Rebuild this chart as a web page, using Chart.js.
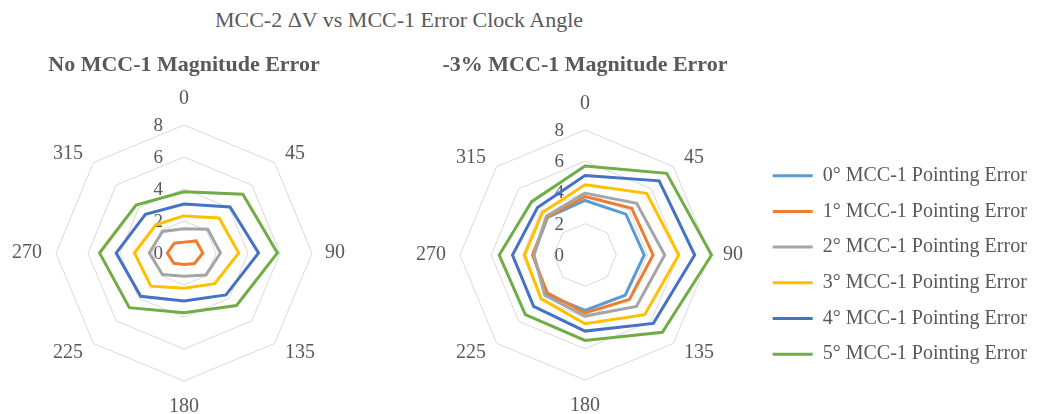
<!DOCTYPE html>
<html>
<head>
<meta charset="utf-8">
<script src="https://cdn.jsdelivr.net/npm/chart.js@4.4.1/dist/chart.umd.min.js"></script>
<style>
html, body { margin: 0; padding: 0; background: #ffffff; overflow: hidden; width: 1046px; height: 414px; }
.box { position: absolute; }
#mainTitle { position: absolute; left: 0; width: 798px; top: 7px; text-align: center; font: 22px/26px "Liberation Serif", serif; color: #595959; white-space: nowrap; }
</style>
</head>
<body>
<div id="mainTitle"></div>
<div class="box" style="left:-36px; top:52px; width:440px; height:369px;"><canvas id="chartLeft"></canvas></div>
<div class="box" style="left:365px; top:52px; width:440px; height:368px;"><canvas id="chartRight"></canvas></div>
<div class="box" style="left:757px; top:150px; width:700px; height:260px;"><canvas id="chartLegend"></canvas></div>
<script>
// ---- data ----
const mainTitle = 'MCC-2 \u0394V vs MCC-1 Error Clock Angle';
const leftTitle = 'No MCC-1 Magnitude Error';
const rightTitle = '-3% MCC-1 Magnitude Error';
const categories = ['0', '45', '90', '135', '180', '225', '270', '315'];
const tickValues = [0, 2, 4, 6, 8];
const seriesNames = [
  '0\u00B0 MCC-1 Pointing Error',
  '1\u00B0 MCC-1 Pointing Error',
  '2\u00B0 MCC-1 Pointing Error',
  '3\u00B0 MCC-1 Pointing Error',
  '4\u00B0 MCC-1 Pointing Error',
  '5\u00B0 MCC-1 Pointing Error'
];
const seriesColors = ['#5B9BD5', '#ED7D31', '#A5A5A5', '#FFC000', '#4472C4', '#70AD47'];

// No MCC-1 magnitude error
const noMagErr0deg = [0, 0, 0, 0, 0, 0, 0, 0];
const noMagErr1deg = [0.68, 1.07, 1.18, 0.93, 0.72, 0.91, 1.04, 0.86];
const noMagErr2deg = [1.51, 2.10, 2.28, 1.94, 1.45, 1.90, 2.17, 1.90];
const noMagErr3deg = [2.32, 3.10, 3.42, 2.71, 2.20, 2.93, 3.10, 2.49];
const noMagErr4deg = [3.06, 4.07, 4.66, 3.71, 3.00, 3.83, 4.24, 3.41];
const noMagErr5deg = [3.83, 5.20, 5.84, 4.64, 3.73, 4.83, 5.28, 4.24];

// -3% MCC-1 magnitude error
const negMagErr0deg = [3.49, 3.70, 3.79, 3.64, 3.55, 3.55, 3.30, 3.40];
const negMagErr1deg = [3.74, 4.23, 4.36, 4.02, 3.70, 3.42, 3.36, 3.42];
const negMagErr2deg = [3.96, 4.68, 5.10, 4.65, 3.91, 3.64, 3.26, 3.50];
const negMagErr3deg = [4.49, 5.58, 6.00, 5.40, 4.40, 3.97, 3.87, 3.85];
const negMagErr4deg = [5.09, 6.71, 7.02, 6.19, 4.87, 4.65, 4.64, 4.30];
const negMagErr5deg = [5.70, 7.39, 8.10, 7.00, 5.47, 5.40, 5.49, 4.83];

const leftSeries = [noMagErr0deg, noMagErr1deg, noMagErr2deg, noMagErr3deg, noMagErr4deg, noMagErr5deg];
const rightSeries = [negMagErr0deg, negMagErr1deg, negMagErr2deg, negMagErr3deg, negMagErr4deg, negMagErr5deg];

document.getElementById('mainTitle').textContent = mainTitle;

const TEXT_COLOR = '#595959';
const FONT_FAMILY = '"Liberation Serif", "Times New Roman", serif';

// tick labels drawn to the left of the vertical axis (Excel style)
const sideTickPlugin = {
  id: 'sideTicks',
  beforeDatasetsDraw(chart) {
    const r = chart.scales.r;
    const ctx = chart.ctx;
    ctx.save();
    ctx.font = '19px ' + FONT_FAMILY;
    ctx.fillStyle = TEXT_COLOR;
    ctx.textAlign = 'right';
    ctx.textBaseline = 'middle';
    r.ticks.forEach(t => {
      const d = r.getDistanceFromCenterForValue(t.value);
      ctx.fillText(String(t.value), r.xCenter - 21, r.yCenter - d + 1);
    });
    ctx.restore();
  }
};

// category labels placed around the outer ring the way Excel places them
const excelPointLabelPlugin = {
  id: 'excelPointLabels',
  afterDraw(chart) {
    const r = chart.scales.r;
    const ctx = chart.ctx;
    ctx.save();
    ctx.font = '20px ' + FONT_FAMILY;
    ctx.fillStyle = TEXT_COLOR;
    ctx.textBaseline = 'middle';
    chart.data.labels.forEach((lab, i) => {
      const p = r.getPointPosition(i, r.drawingArea);
      const deg = Math.round(r.getIndexAngle(i) * 180 / Math.PI) % 360;
      let x = p.x, y = p.y, align = 'center';
      if (deg === 0) { y -= 26; }
      else if (deg === 180) { y += 26; }
      else if (deg === 90) { x += 13; align = 'left'; }
      else if (deg === 270) { x -= 14; align = 'right'; }
      else if (deg < 180) { x += 10.5; align = 'left'; y += (deg < 90 ? -9 : 9); }
      else { x -= 10.5; align = 'right'; y += (deg > 270 ? -9 : 9); }
      ctx.textAlign = align;
      ctx.fillText(lab, x, y);
    });
    ctx.restore();
  }
};

function makeRadar(id, seriesList, subtitle, titleBottomPad) {
  return new Chart(document.getElementById(id), {
    type: 'radar',
    data: {
      labels: categories,
      datasets: seriesList.map((d, i) => ({
        label: seriesNames[i],
        data: d,
        borderColor: seriesColors[i],
        backgroundColor: seriesColors[i],
        borderWidth: 3,
        pointRadius: 0,
        pointHoverRadius: 0,
        fill: false,
        order: seriesList.length - i
      }))
    },
    options: {
      responsive: true,
      maintainAspectRatio: false,
      animation: false,
      layout: { padding: { top: 0, left: 0, right: 0, bottom: 40 } },
      plugins: {
        legend: { display: false },
        tooltip: { enabled: false },
        title: {
          display: true,
          text: subtitle,
          color: TEXT_COLOR,
          font: { family: FONT_FAMILY, size: 22, weight: 'bold', lineHeight: 1.2 },
          padding: { top: 0, bottom: titleBottomPad }
        }
      },
      scales: {
        r: {
          min: tickValues[0],
          max: tickValues[tickValues.length - 1],
          ticks: { stepSize: tickValues[1] - tickValues[0], display: false },
          grid: { color: '#D9D9D9', lineWidth: 1 },
          angleLines: { display: false },
          pointLabels: { display: false }
        }
      }
    },
    plugins: [sideTickPlugin, excelPointLabelPlugin]
  });
}

makeRadar('chartLeft', leftSeries, leftTitle, 46.6);
makeRadar('chartRight', rightSeries, rightTitle, 51.6);

// shared legend
new Chart(document.getElementById('chartLegend'), {
  type: 'radar',
  data: {
    labels: categories,
    datasets: rightSeries.map((d, i) => ({
      label: seriesNames[i],
      data: d,
      borderColor: seriesColors[i],
      backgroundColor: seriesColors[i],
      borderWidth: 3,
      pointRadius: 0
    }))
  },
  options: {
    responsive: true,
    maintainAspectRatio: false,
    animation: false,
    layout: { padding: 0 },
    scales: { r: { display: false } },
    plugins: {
      tooltip: { enabled: false },
      title: { display: false },
      legend: {
        position: 'left',
        align: 'start',
        labels: {
          usePointStyle: true,
          pointStyle: 'line',
          pointStyleWidth: 40,
          font: { family: FONT_FAMILY, size: 20 },
          color: TEXT_COLOR,
          padding: 15.7
        }
      }
    }
  },
  plugins: [{ id: 'legendOnly', beforeDatasetsDraw() { return false; } }]
});
</script>
</body>
</html>
